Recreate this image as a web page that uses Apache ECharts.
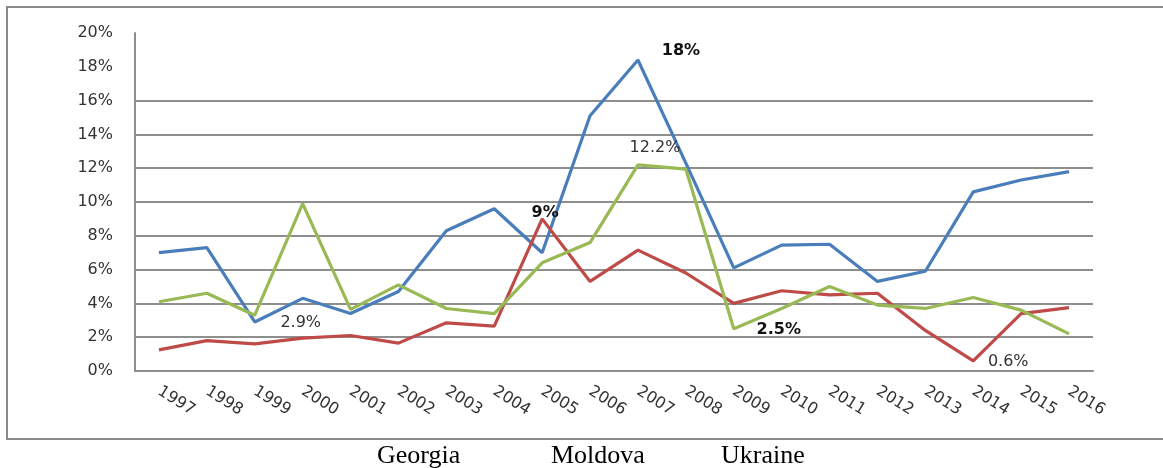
<!DOCTYPE html>
<html>
<head>
<meta charset="utf-8">
<script src="https://cdn.jsdelivr.net/npm/echarts@6/dist/echarts.min.js"></script>
<style>html,body{margin:0;padding:0;background:#fff}#c{width:1163px;height:468px}</style>
</head>
<body>
<div id="c"></div>
<script>
const years = ['1997','1998','1999','2000','2001','2002','2003','2004','2005','2006','2007','2008','2009','2010','2011','2012','2013','2014','2015','2016'];
const georgia = [7.0, 7.3, 2.9, 4.3, 3.4, 4.7, 8.3, 9.6, 7.0, 15.1, 18.4, 12.3, 6.1, 7.45, 7.5, 5.3, 5.9, 10.6, 11.3, 11.8];
const moldova = [1.25, 1.8, 1.6, 1.95, 2.1, 1.65, 2.85, 2.65, 9.0, 5.3, 7.15, 5.8, 4.0, 4.75, 4.5, 4.6, 2.4, 0.6, 3.4, 3.75];
const ukraine = [4.1, 4.6, 3.3, 9.9, 3.65, 5.1, 3.7, 3.4, 6.4, 7.6, 12.2, 11.95, 2.5, 3.7, 5.0, 3.9, 3.7, 4.35, 3.6, 2.2];
const yTicks = [0, 20, 2];
const seriesNames = ['Georgia', 'Moldova', 'Ukraine'];
const pointLabels = [
  {s: 0, i: 10, text: '18%', bold: true},
  {s: 1, i: 8, text: '9%', bold: true},
  {s: 2, i: 10, text: '12.2%', bold: false},
  {s: 2, i: 12, text: '2.5%', bold: true},
  {s: 0, i: 2, text: '2.9%', bold: false},
  {s: 1, i: 17, text: '0.6%', bold: false}
];
const labelOffsets = {'0-10': [43, -9], '1-8': [3, -6], '2-10': [17, -17], '2-12': [45, 1], '0-2': [46, 1], '1-17': [35, 1]};

const colors = ['#4A7EBB', '#BE4B48', '#98B954'];
const values = [georgia, moldova, ukraine];

function buildData(sIdx) {
  return values[sIdx].map((v, i) => {
    const pl = pointLabels.find(p => p.s === sIdx && p.i === i);
    if (!pl) return v;
    return {
      value: v,
      label: {
        show: true,
        position: 'inside',
        offset: labelOffsets[sIdx + '-' + i],
        formatter: pl.text,
        fontFamily: 'DejaVu Sans',
        fontSize: 16,
        fontWeight: pl.bold ? 'bold' : 'normal',
        color: pl.bold ? '#111' : '#333'
      }
    };
  });
}

const gridColor = '#8e8e8e';
const splitColors = [];
for (let v = yTicks[0]; v <= yTicks[1]; v += yTicks[2]) splitColors.push(v <= 16 ? gridColor : 'rgba(0,0,0,0)');

const chart = echarts.init(document.getElementById('c'), null, {renderer: 'canvas'});
chart.setOption({
  animation: false,
  backgroundColor: '#fff',
  grid: {left: 135, right: 70, top: 33, bottom: 97, containLabel: false},
  xAxis: {
    type: 'category',
    data: years,
    boundaryGap: true,
    axisLine: {show: true, lineStyle: {color: gridColor, width: 2}},
    axisTick: {show: false},
    axisLabel: {rotate: -32, margin: 19, fontFamily: 'DejaVu Sans', fontSize: 16, color: '#333'},
    splitLine: {show: false}
  },
  yAxis: {
    type: 'value',
    min: yTicks[0], max: yTicks[1], interval: yTicks[2],
    axisLine: {show: true, lineStyle: {color: gridColor, width: 2}},
    axisTick: {show: false},
    axisLabel: {formatter: '{value}%', margin: 22, fontFamily: 'DejaVu Sans', fontSize: 16, color: '#333'},
    splitLine: {show: true, lineStyle: {color: splitColors, width: 2}}
  },
  legend: [
    {data: [seriesNames[0]], left: 372, top: 443, icon: 'none', itemWidth: 0, itemGap: 0, padding: 0, textStyle: {fontFamily: 'Liberation Serif', fontSize: 26, color: '#000'}},
    {data: [seriesNames[1]], left: 546, top: 443, icon: 'none', itemWidth: 0, itemGap: 0, padding: 0, textStyle: {fontFamily: 'Liberation Serif', fontSize: 26, color: '#000'}},
    {data: [seriesNames[2]], left: 716, top: 443, icon: 'none', itemWidth: 0, itemGap: 0, padding: 0, textStyle: {fontFamily: 'Liberation Serif', fontSize: 26, color: '#000'}}
  ],
  graphic: [{
    type: 'rect', silent: true,
    shape: {x: 7, y: 7, width: 1200, height: 432},
    style: {fill: 'none', stroke: '#8a8a8a', lineWidth: 2}
  }],
  series: seriesNames.map((name, s) => ({
    name: name,
    type: 'line',
    data: buildData(s),
    symbol: 'circle',
    symbolSize: 0,
    showSymbol: true,
    itemStyle: {color: colors[s]},
    lineStyle: {color: colors[s], width: 3.2},
    label: {show: false},
    z: 3 + s
  }))
});
</script>
</body>
</html>
